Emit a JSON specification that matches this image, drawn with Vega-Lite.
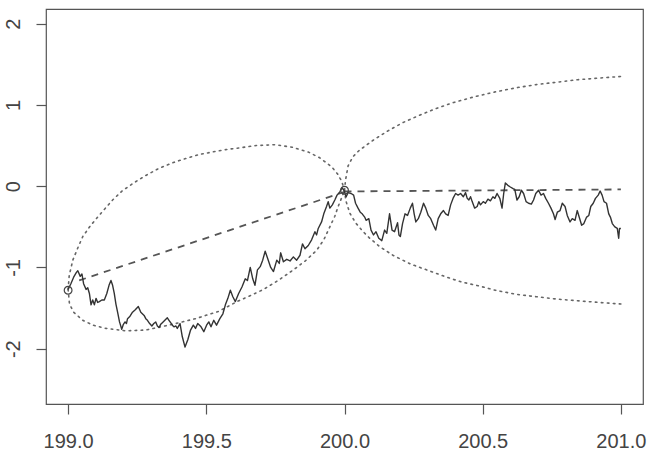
{
  "$schema": "https://vega.github.io/schema/vega-lite/v6.json",
  "width": 597,
  "height": 395,
  "autosize": {"type": "none"},
  "padding": {"left": 46, "top": 9, "right": 7, "bottom": 53},
  "background": "white",
  "config": {
    "view": {"stroke": "#555555", "strokeWidth": 1.2},
    "axis": {"grid": false, "domain": false, "title": null, "tickColor": "#555555", "tickSize": 10, "tickWidth": 1.2, "labelColor": "#444444", "labelFont": "Liberation Sans", "labelFontSize": 20}
  },
  "datasets": {
    "walk": [
      {"x":199.000,"y":-1.27},{"x":199.010,"y":-1.20},{"x":199.020,"y":-1.12},{"x":199.030,"y":-1.06},{"x":199.035,"y":-1.04},{"x":199.044,"y":-1.11},{"x":199.050,"y":-1.08},{"x":199.056,"y":-1.20},{"x":199.065,"y":-1.27},{"x":199.071,"y":-1.25},{"x":199.077,"y":-1.32},{"x":199.083,"y":-1.46},{"x":199.089,"y":-1.40},{"x":199.095,"y":-1.46},{"x":199.101,"y":-1.38},{"x":199.107,"y":-1.43},{"x":199.113,"y":-1.42},{"x":199.122,"y":-1.40},{"x":199.131,"y":-1.40},{"x":199.140,"y":-1.32},{"x":199.148,"y":-1.22},{"x":199.155,"y":-1.16},{"x":199.161,"y":-1.22},{"x":199.167,"y":-1.32},{"x":199.173,"y":-1.45},{"x":199.179,"y":-1.55},{"x":199.186,"y":-1.67},{"x":199.194,"y":-1.76},{"x":199.200,"y":-1.70},{"x":199.206,"y":-1.67},{"x":199.211,"y":-1.69},{"x":199.215,"y":-1.63},{"x":199.224,"y":-1.60},{"x":199.233,"y":-1.55},{"x":199.243,"y":-1.52},{"x":199.254,"y":-1.48},{"x":199.263,"y":-1.55},{"x":199.275,"y":-1.59},{"x":199.281,"y":-1.63},{"x":199.287,"y":-1.65},{"x":199.295,"y":-1.69},{"x":199.303,"y":-1.72},{"x":199.310,"y":-1.69},{"x":199.317,"y":-1.67},{"x":199.323,"y":-1.72},{"x":199.329,"y":-1.74},{"x":199.335,"y":-1.70},{"x":199.341,"y":-1.68},{"x":199.350,"y":-1.65},{"x":199.359,"y":-1.62},{"x":199.365,"y":-1.65},{"x":199.371,"y":-1.68},{"x":199.377,"y":-1.71},{"x":199.383,"y":-1.73},{"x":199.390,"y":-1.72},{"x":199.395,"y":-1.75},{"x":199.405,"y":-1.69},{"x":199.413,"y":-1.85},{"x":199.423,"y":-1.98},{"x":199.433,"y":-1.89},{"x":199.443,"y":-1.77},{"x":199.453,"y":-1.71},{"x":199.461,"y":-1.75},{"x":199.469,"y":-1.69},{"x":199.481,"y":-1.73},{"x":199.491,"y":-1.79},{"x":199.501,"y":-1.71},{"x":199.509,"y":-1.67},{"x":199.517,"y":-1.73},{"x":199.527,"y":-1.65},{"x":199.537,"y":-1.71},{"x":199.549,"y":-1.63},{"x":199.560,"y":-1.57},{"x":199.569,"y":-1.46},{"x":199.578,"y":-1.38},{"x":199.587,"y":-1.28},{"x":199.596,"y":-1.36},{"x":199.605,"y":-1.42},{"x":199.617,"y":-1.32},{"x":199.629,"y":-1.24},{"x":199.641,"y":-1.14},{"x":199.649,"y":-1.16},{"x":199.659,"y":-1.00},{"x":199.668,"y":-1.14},{"x":199.676,"y":-1.22},{"x":199.685,"y":-1.03},{"x":199.695,"y":-0.99},{"x":199.704,"y":-0.91},{"x":199.713,"y":-0.80},{"x":199.722,"y":-0.89},{"x":199.733,"y":-1.00},{"x":199.743,"y":-1.05},{"x":199.755,"y":-0.91},{"x":199.764,"y":-0.95},{"x":199.769,"y":-0.82},{"x":199.779,"y":-0.93},{"x":199.791,"y":-0.90},{"x":199.803,"y":-0.92},{"x":199.815,"y":-0.87},{"x":199.827,"y":-0.91},{"x":199.839,"y":-0.85},{"x":199.848,"y":-0.71},{"x":199.857,"y":-0.77},{"x":199.869,"y":-0.73},{"x":199.881,"y":-0.66},{"x":199.893,"y":-0.56},{"x":199.899,"y":-0.60},{"x":199.905,"y":-0.52},{"x":199.917,"y":-0.44},{"x":199.925,"y":-0.34},{"x":199.935,"y":-0.25},{"x":199.941,"y":-0.19},{"x":199.947,"y":-0.27},{"x":199.956,"y":-0.23},{"x":199.965,"y":-0.17},{"x":199.973,"y":-0.11},{"x":199.983,"y":-0.07},{"x":199.991,"y":-0.02},{"x":199.998,"y":-0.05},{"x":200.006,"y":-0.13},{"x":200.013,"y":-0.08},{"x":200.024,"y":-0.09},{"x":200.033,"y":-0.11},{"x":200.040,"y":-0.21},{"x":200.049,"y":-0.27},{"x":200.057,"y":-0.32},{"x":200.064,"y":-0.34},{"x":200.073,"y":-0.38},{"x":200.078,"y":-0.42},{"x":200.088,"y":-0.40},{"x":200.096,"y":-0.54},{"x":200.105,"y":-0.60},{"x":200.114,"y":-0.56},{"x":200.124,"y":-0.64},{"x":200.135,"y":-0.67},{"x":200.145,"y":-0.54},{"x":200.153,"y":-0.58},{"x":200.163,"y":-0.34},{"x":200.172,"y":-0.54},{"x":200.181,"y":-0.56},{"x":200.192,"y":-0.45},{"x":200.197,"y":-0.60},{"x":200.202,"y":-0.62},{"x":200.210,"y":-0.46},{"x":200.219,"y":-0.34},{"x":200.228,"y":-0.36},{"x":200.238,"y":-0.27},{"x":200.246,"y":-0.21},{"x":200.252,"y":-0.34},{"x":200.258,"y":-0.44},{"x":200.267,"y":-0.40},{"x":200.276,"y":-0.32},{"x":200.286,"y":-0.21},{"x":200.294,"y":-0.27},{"x":200.303,"y":-0.36},{"x":200.312,"y":-0.40},{"x":200.322,"y":-0.48},{"x":200.330,"y":-0.54},{"x":200.339,"y":-0.40},{"x":200.348,"y":-0.34},{"x":200.358,"y":-0.30},{"x":200.366,"y":-0.34},{"x":200.375,"y":-0.36},{"x":200.384,"y":-0.23},{"x":200.394,"y":-0.14},{"x":200.402,"y":-0.09},{"x":200.411,"y":-0.11},{"x":200.420,"y":-0.09},{"x":200.430,"y":-0.13},{"x":200.438,"y":-0.08},{"x":200.444,"y":-0.15},{"x":200.450,"y":-0.17},{"x":200.456,"y":-0.13},{"x":200.462,"y":-0.19},{"x":200.471,"y":-0.27},{"x":200.480,"y":-0.25},{"x":200.486,"y":-0.19},{"x":200.492,"y":-0.23},{"x":200.502,"y":-0.19},{"x":200.510,"y":-0.21},{"x":200.519,"y":-0.16},{"x":200.528,"y":-0.18},{"x":200.537,"y":-0.13},{"x":200.544,"y":-0.15},{"x":200.552,"y":-0.09},{"x":200.562,"y":-0.15},{"x":200.570,"y":-0.27},{"x":200.576,"y":-0.09},{"x":200.582,"y":0.04},{"x":200.591,"y":0.01},{"x":200.600,"y":-0.01},{"x":200.610,"y":-0.03},{"x":200.616,"y":-0.04},{"x":200.624,"y":-0.17},{"x":200.632,"y":-0.13},{"x":200.640,"y":-0.05},{"x":200.648,"y":-0.09},{"x":200.657,"y":-0.19},{"x":200.666,"y":-0.21},{"x":200.676,"y":-0.22},{"x":200.684,"y":-0.17},{"x":200.692,"y":-0.09},{"x":200.702,"y":-0.05},{"x":200.711,"y":-0.11},{"x":200.720,"y":-0.09},{"x":200.728,"y":-0.15},{"x":200.738,"y":-0.21},{"x":200.747,"y":-0.27},{"x":200.756,"y":-0.34},{"x":200.762,"y":-0.41},{"x":200.770,"y":-0.32},{"x":200.780,"y":-0.30},{"x":200.788,"y":-0.21},{"x":200.798,"y":-0.25},{"x":200.806,"y":-0.36},{"x":200.816,"y":-0.44},{"x":200.824,"y":-0.40},{"x":200.834,"y":-0.42},{"x":200.842,"y":-0.30},{"x":200.851,"y":-0.40},{"x":200.858,"y":-0.48},{"x":200.866,"y":-0.46},{"x":200.876,"y":-0.38},{"x":200.884,"y":-0.36},{"x":200.891,"y":-0.25},{"x":200.900,"y":-0.21},{"x":200.908,"y":-0.15},{"x":200.918,"y":-0.11},{"x":200.925,"y":-0.06},{"x":200.932,"y":-0.11},{"x":200.939,"y":-0.19},{"x":200.948,"y":-0.21},{"x":200.956,"y":-0.34},{"x":200.962,"y":-0.38},{"x":200.969,"y":-0.46},{"x":200.978,"y":-0.50},{"x":200.987,"y":-0.52},{"x":200.992,"y":-0.64},{"x":200.995,"y":-0.52},{"x":201.000,"y":-0.52}
    ],
    "dashed": [
      {"seg":"a","x":199.04,"y":-1.16},{"seg":"a","x":200.0,"y":-0.07},
      {"seg":"b","x":200.0,"y":-0.065},{"seg":"b","x":201.0,"y":-0.04}
    ],
    "dotted": [
      {"c":"lu","x":199.000,"y":-1.27},{"c":"lu","x":199.004,"y":-1.10},{"c":"lu","x":199.017,"y":-0.91},{"c":"lu","x":199.035,"y":-0.76},{"c":"lu","x":199.053,"y":-0.62},{"c":"lu","x":199.080,"y":-0.49},{"c":"lu","x":199.107,"y":-0.38},{"c":"lu","x":199.135,"y":-0.27},{"c":"lu","x":199.161,"y":-0.17},{"c":"lu","x":199.195,"y":-0.06},{"c":"lu","x":199.233,"y":0.03},{"c":"lu","x":199.280,"y":0.13},{"c":"lu","x":199.329,"y":0.22},{"c":"lu","x":199.380,"y":0.29},{"c":"lu","x":199.425,"y":0.34},{"c":"lu","x":199.475,"y":0.39},{"c":"lu","x":199.521,"y":0.42},{"c":"lu","x":199.570,"y":0.45},{"c":"lu","x":199.617,"y":0.47},{"c":"lu","x":199.680,"y":0.50},{"c":"lu","x":199.749,"y":0.51},{"c":"lu","x":199.810,"y":0.48},{"c":"lu","x":199.869,"y":0.42},{"c":"lu","x":199.910,"y":0.35},{"c":"lu","x":199.953,"y":0.24},{"c":"lu","x":199.975,"y":0.15},{"c":"lu","x":199.990,"y":0.06},{"c":"lu","x":200.000,"y":-0.05},
      {"c":"ll","x":199.000,"y":-1.27},{"c":"ll","x":199.005,"y":-1.45},{"c":"ll","x":199.020,"y":-1.55},{"c":"ll","x":199.053,"y":-1.65},{"c":"ll","x":199.090,"y":-1.71},{"c":"ll","x":199.137,"y":-1.75},{"c":"ll","x":199.209,"y":-1.78},{"c":"ll","x":199.281,"y":-1.77},{"c":"ll","x":199.377,"y":-1.70},{"c":"ll","x":199.461,"y":-1.63},{"c":"ll","x":199.545,"y":-1.54},{"c":"ll","x":199.611,"y":-1.42},{"c":"ll","x":199.664,"y":-1.34},{"c":"ll","x":199.707,"y":-1.27},{"c":"ll","x":199.760,"y":-1.16},{"c":"ll","x":199.815,"y":-1.03},{"c":"ll","x":199.858,"y":-0.92},{"c":"ll","x":199.899,"y":-0.79},{"c":"ll","x":199.925,"y":-0.66},{"c":"ll","x":199.947,"y":-0.50},{"c":"ll","x":199.965,"y":-0.37},{"c":"ll","x":199.977,"y":-0.25},{"c":"ll","x":199.990,"y":-0.14},{"c":"ll","x":200.000,"y":-0.05},
      {"c":"ru","x":200.000,"y":-0.05},{"c":"ru","x":200.004,"y":0.08},{"c":"ru","x":200.013,"y":0.25},{"c":"ru","x":200.030,"y":0.36},{"c":"ru","x":200.050,"y":0.43},{"c":"ru","x":200.073,"y":0.49},{"c":"ru","x":200.110,"y":0.58},{"c":"ru","x":200.157,"y":0.68},{"c":"ru","x":200.210,"y":0.78},{"c":"ru","x":200.276,"y":0.88},{"c":"ru","x":200.335,"y":0.96},{"c":"ru","x":200.395,"y":1.03},{"c":"ru","x":200.470,"y":1.10},{"c":"ru","x":200.545,"y":1.16},{"c":"ru","x":200.620,"y":1.21},{"c":"ru","x":200.694,"y":1.25},{"c":"ru","x":200.770,"y":1.28},{"c":"ru","x":200.844,"y":1.31},{"c":"ru","x":200.920,"y":1.33},{"c":"ru","x":201.000,"y":1.35},
      {"c":"rl","x":200.000,"y":-0.05},{"c":"rl","x":200.005,"y":-0.18},{"c":"rl","x":200.019,"y":-0.33},{"c":"rl","x":200.040,"y":-0.45},{"c":"rl","x":200.065,"y":-0.55},{"c":"rl","x":200.091,"y":-0.64},{"c":"rl","x":200.130,"y":-0.75},{"c":"rl","x":200.175,"y":-0.85},{"c":"rl","x":200.240,"y":-0.96},{"c":"rl","x":200.306,"y":-1.04},{"c":"rl","x":200.370,"y":-1.12},{"c":"rl","x":200.425,"y":-1.18},{"c":"rl","x":200.490,"y":-1.23},{"c":"rl","x":200.545,"y":-1.28},{"c":"rl","x":200.620,"y":-1.33},{"c":"rl","x":200.694,"y":-1.36},{"c":"rl","x":200.770,"y":-1.39},{"c":"rl","x":200.844,"y":-1.41},{"c":"rl","x":200.920,"y":-1.43},{"c":"rl","x":201.000,"y":-1.45}
    ],
    "points": [
      {"x":199.0,"y":-1.28},{"x":200.0,"y":-0.05}
    ]
  },
  "encoding": {
    "x": {"field": "x", "type": "quantitative", "scale": {"domain": [198.92, 201.08], "nice": false, "zero": false},
      "axis": {"values": [199, 199.5, 200, 200.5, 201], "format": ".1f", "labelPadding": 17, "labelFlush": false}},
    "y": {"field": "y", "type": "quantitative", "scale": {"domain": [-2.68, 2.18], "nice": false, "zero": false},
      "axis": {"values": [-2, -1, 0, 1, 2], "labelExpr": "'' + datum.value", "labelAngle": 270, "labelAlign": "center", "labelBaseline": "alphabetic", "labelPadding": 17}}
  },
  "layer": [
    {"data": {"name": "dotted"}, "mark": {"type": "line", "stroke": "#666666", "strokeWidth": 1.6, "strokeDash": [1.6, 4.4], "strokeCap": "round", "clip": true},
      "encoding": {"detail": {"field": "c"}}},
    {"data": {"name": "dashed"}, "mark": {"type": "line", "stroke": "#555555", "strokeWidth": 1.8, "strokeDash": [7, 6], "clip": true},
      "encoding": {"detail": {"field": "seg"}}},
    {"data": {"name": "walk"}, "mark": {"type": "line", "stroke": "#333333", "strokeWidth": 1.4, "strokeJoin": "round", "clip": true},
      "encoding": {}},
    {"data": {"name": "points"}, "mark": {"type": "point", "shape": "circle", "filled": false, "stroke": "#444444", "strokeWidth": 1.2, "size": 60, "opacity": 1},
      "encoding": {}}
  ]
}
